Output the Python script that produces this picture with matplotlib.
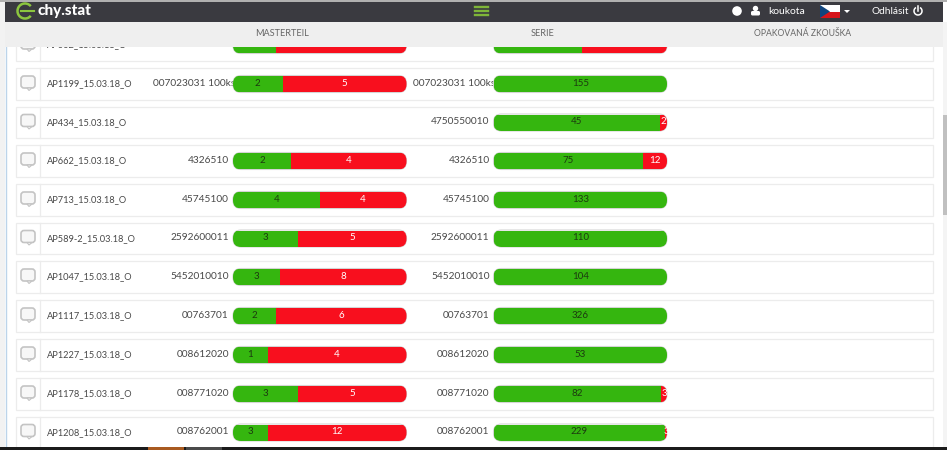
"""Recreate the chy.stat overview screen with its stacked pass/fail bars."""

import matplotlib
matplotlib.use('Agg')
import matplotlib.pyplot as plt
from matplotlib.patches import Rectangle, FancyBboxPatch, Polygon, Circle, Arc

plt.rcParams['font.family'] = ['Lato', 'DejaVu Sans']

# table data, first row is mostly hidden behind the header
names = ['AP662_15.03.18_O', 'AP1199_15.03.18_O', 'AP434_15.03.18_O', 'AP662_15.03.18_O',
         'AP713_15.03.18_O', 'AP589-2_15.03.18_O', 'AP1047_15.03.18_O', 'AP1117_15.03.18_O',
         'AP1227_15.03.18_O', 'AP1178_15.03.18_O', 'AP1208_15.03.18_O']
parts = ['0047025001', '007023031 100ks', '', '4326510', '45745100', '2592600011',
         '5452010010', '00763701', '008612020', '008771020', '008762001']
serie_parts = ['0047025001', '007023031 100ks', '4750550010', '4326510', '45745100', '2592600011',
               '5452010010', '00763701', '008612020', '008771020', '008762001']
master_ok = [2, 2, 0, 2, 4, 3, 3, 2, 1, 3, 3]
master_bad = [6, 5, 0, 4, 4, 5, 8, 6, 4, 5, 12]
serie_ok = [21, 155, 45, 75, 133, 110, 104, 326, 53, 82, 229]
serie_bad = [20, 0, 2, 12, 0, 0, 0, 0, 0, 3, 3]
row_y = [45, 84, 122.5, 161, 200, 238.5, 277, 316, 355, 394, 432.5]
columns = ['MASTERTEIL', 'SERIE', 'OPAKOVANÁ ZKOUŠKA']
column_x = [282, 543, 803]
column_size = [6.6, 6.6, 6.2]

GREEN = '#35b60f'
RED = '#f80f1e'
TEXT = '#484848'
DARK = '#3a3a40'
BAR_W = 173.5
BAR_H = 16


def draw_bar(ax, x0, y, ok, bad):
    total = ok + bad
    if total == 0:
        return
    shape = FancyBboxPatch((x0 + 8, y - 0.5), BAR_W - 16, 1,
                           boxstyle='round,pad=8,rounding_size=8', fc='none', ec='#d4d4d4',
                           lw=0.8, zorder=2)
    ax.add_patch(shape)
    w_ok = BAR_W * ok / total
    good = ax.barh(y, w_ok, height=BAR_H, left=x0, color=GREEN, zorder=3)
    fail = ax.barh(y, BAR_W - w_ok, height=BAR_H, left=x0 + w_ok, color=RED, zorder=3)
    good[0].set_clip_path(shape)
    fail[0].set_clip_path(shape)
    ax.text(x0 + w_ok / 2, y - 0.5, str(ok), color='#1c3a10', fontsize=7, ha='center',
            va='center', zorder=5)
    if bad:
        ax.text(x0 + w_ok + (BAR_W - w_ok) / 2, y - 0.5, str(bad), color='white', fontsize=7,
                ha='center', va='center', zorder=5)


def draw_bubble(ax, y):
    ax.add_patch(FancyBboxPatch((23, y - 5), 10, 8, boxstyle='round,pad=2,rounding_size=3',
                                fc='#f7f7f7', ec='#c4c4c4', lw=1.2, zorder=2))
    ax.add_patch(Polygon([[27, y + 5], [32, y + 5], [29, y + 7.5]], fc='#f7f7f7', ec='#c4c4c4',
                         lw=0.8, zorder=2))


fig = plt.figure(figsize=(9.47, 4.5), dpi=100, facecolor='white')
ax = fig.add_axes([0, 0, 1, 1])
ax.set_xlim(0, 947)
ax.set_ylim(450, 0)
ax.axis('off')

# window edges
ax.add_patch(Rectangle((0, 0), 5, 450, fc='#f2f2f2', ec='none', zorder=0))
ax.plot([5.5, 5.5], [22, 447], color='#bcd4ea', lw=1, zorder=1)
ax.add_patch(Rectangle((943, 22), 4, 425, fc='#f4f4f4', ec='none', zorder=1))
ax.add_patch(Rectangle((943, 115), 4, 100, fc='#c0c0c0', ec='none', zorder=1))

# table rows
for i, y in enumerate(row_y):
    ax.add_patch(Rectangle((15.5, y - 16), 917.5, 31.5, fc='white', ec='#ececec', lw=0.9, zorder=1))
    ax.plot([40, 40], [y - 16, y + 15.5], color='#ececec', lw=0.9, zorder=1)
    draw_bubble(ax, y - 1)
    ax.text(46.5, y, names[i], color=TEXT, fontsize=6.7, va='center', zorder=2)
    # the long part number runs under the start of the bar
    shift = 6 if len(parts[i]) > 12 else 0
    if parts[i]:
        ax.text(229 + shift, y - 0.5, parts[i], color=TEXT, fontsize=7.3, ha='right', va='center', zorder=2)
    ax.text(489.5 + shift, y - 0.5, serie_parts[i], color=TEXT, fontsize=7.3, ha='right', va='center', zorder=2)
    draw_bar(ax, 233, y, master_ok[i], master_bad[i])
    draw_bar(ax, 493.5, y, serie_ok[i], serie_bad[i])

# column header band
ax.add_patch(Rectangle((5, 22), 938, 25, fc='#efefef', ec='none', zorder=6))
for label, x, size in zip(columns, column_x, column_size):
    ax.text(x, 34, label, color='#666666', fontsize=size, ha='center', va='center', zorder=7)

# top navigation bar
ax.add_patch(Rectangle((0, 0), 947, 2, fc='#b0b0b0', ec='none', zorder=7))
ax.add_patch(Rectangle((5, 2), 938, 19.5, fc=DARK, ec='none', zorder=7))
ax.add_patch(Arc((25, 11), 15, 15, theta1=40, theta2=320, ec='#8cc63f', lw=1.8, zorder=8))
ax.plot([21, 34], [11, 11], color='#8cc63f', lw=1.5, zorder=8)
ax.text(37, 11, 'chy.stat', color='white', fontsize=11, fontweight='black', va='center', zorder=8)
for y in (7, 11, 15):
    ax.plot([475, 488], [y, y], color='#7fb539', lw=1.7, zorder=8)

ax.add_patch(Circle((737, 11), 4.8, fc='white', ec='none', zorder=8))
ax.add_patch(Circle((755.5, 8.5), 2.7, fc='white', ec='none', zorder=8))
ax.add_patch(FancyBboxPatch((752, 12), 7, 2.5, boxstyle='round,pad=1,rounding_size=1.5',
                            fc='white', ec='none', zorder=8))
ax.text(768, 11, 'koukota', color='white', fontsize=7.5, va='center', zorder=8)

# czech flag and language caret
ax.add_patch(Rectangle((820, 5), 20, 6.5, fc='white', ec='none', zorder=8))
ax.add_patch(Rectangle((820, 11.5), 20, 6.5, fc='#d7141a', ec='none', zorder=8))
ax.add_patch(Polygon([[820, 5], [830, 11.5], [820, 18]], fc='#11457e', ec='none', zorder=9))
ax.add_patch(Polygon([[844, 10], [850, 10], [847, 13]], fc='white', ec='none', zorder=8))

ax.text(871, 11, 'Odhlásit', color='white', fontsize=7.3, va='center', zorder=8)
ax.add_patch(Arc((918, 11), 8, 8, theta1=-60, theta2=240, ec='white', lw=1.1, zorder=8))
ax.plot([918, 918], [6, 10.5], color='white', lw=1.1, zorder=8)

# dark strip at the bottom of the screenshot
ax.add_patch(Rectangle((0, 447), 947, 3, fc='#1b1b1b', ec='none', zorder=8))
ax.add_patch(Rectangle((148, 447), 36, 3, fc='#a85a20', ec='none', zorder=9))
ax.add_patch(Rectangle((186, 447), 36, 3, fc='#4a4a4a', ec='none', zorder=9))

fig.savefig('out.png', dpi=100)
